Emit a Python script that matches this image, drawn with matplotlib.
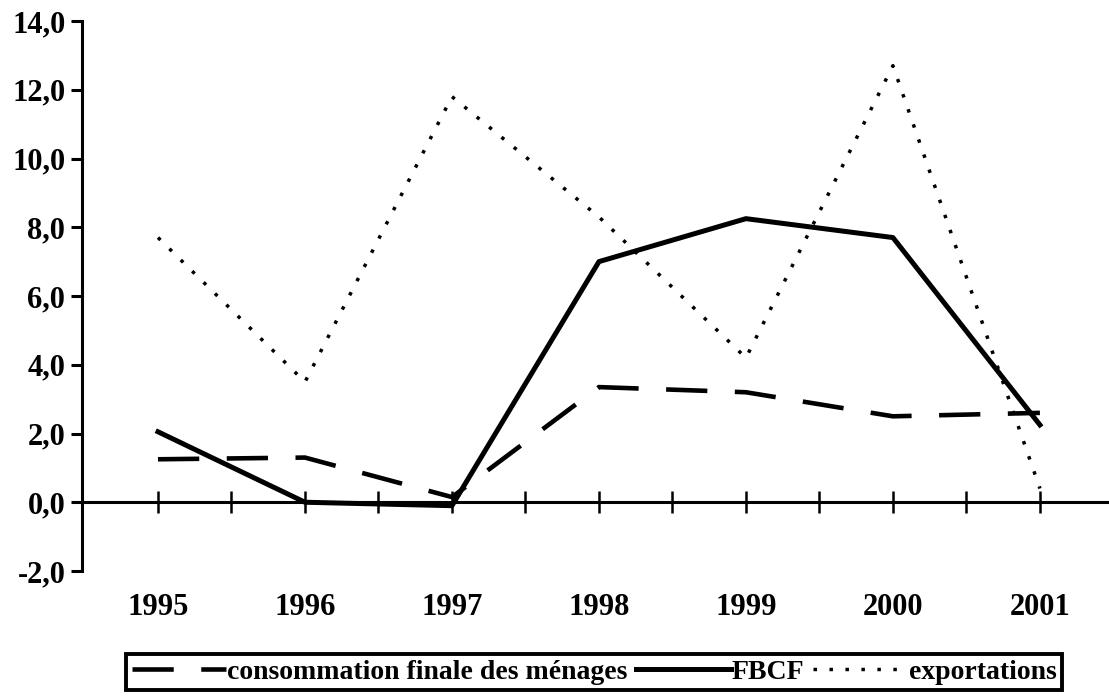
import matplotlib.pyplot as plt
import numpy as np

years = ['1995', '1996', '1997', '1998', '1999', '2000', '2001']
conso = [1.25, 1.3, 0.15, 3.35, 3.2, 2.5, 2.6]
fbcf = [2.05, 0.0, -0.1, 7.0, 8.25, 7.7, 2.25]
export = [7.7, 3.5, 11.8, 8.3, 4.2, 12.7, 0.4]

plt.rcParams['font.family'] = ['Liberation Serif', 'DejaVu Serif']
plt.rcParams['font.weight'] = 'bold'

fig = plt.figure(figsize=(11.09, 6.99), dpi=100)
ax = fig.add_axes([82 / 1109, 128 / 699, 1 - 82 / 1109, 550 / 699])

x = np.arange(len(years))
ax.plot(x, conso, color='black', lw=3.3, dashes=(9, 6),
        label='consommation finale des ménages')
ax.plot(x, fbcf, color='black', lw=3.6, label='FBCF')
ax.plot(x, export, color='black', lw=2.5, dashes=(1.0, 3.6), label='exportations')

ax.set_xlim(-0.517, 6.47)
ax.set_ylim(-2, 14)

ax.spines['top'].set_visible(False)
ax.spines['right'].set_visible(False)
ax.spines['left'].set_linewidth(2.2)
ax.spines['bottom'].set_position(('data', 0))
ax.spines['bottom'].set_linewidth(2.2)

ax.set_yticks(np.arange(-2, 15, 2))
ax.set_yticklabels([f'{v:.1f}'.replace('.', ',') for v in np.arange(-2, 15, 2)],
                   fontsize=22, fontweight='bold')
ax.tick_params(axis='y', length=8, width=2.2, pad=4)

ax.set_xticks(np.arange(0, 6.01, 0.5))
ax.set_xticklabels([])
ax.tick_params(axis='x', direction='inout', length=16, width=1.8)

for i, yr in enumerate(years):
    ax.text(i, -0.066, yr, transform=ax.get_xaxis_transform(), ha='center',
            va='center', fontsize=22, fontweight='bold')

leg = fig.legend(loc='center', bbox_to_anchor=(594 / 1109, 27 / 699), ncol=3,
                 fancybox=False, edgecolor='black', framealpha=1,
                 prop={'size': 20, 'weight': 'bold'}, handlelength=3.4,
                 handletextpad=0.05, columnspacing=0.3, borderpad=0.2)
leg.get_frame().set_linewidth(2.8)

fig.savefig('out.png', dpi=100)
